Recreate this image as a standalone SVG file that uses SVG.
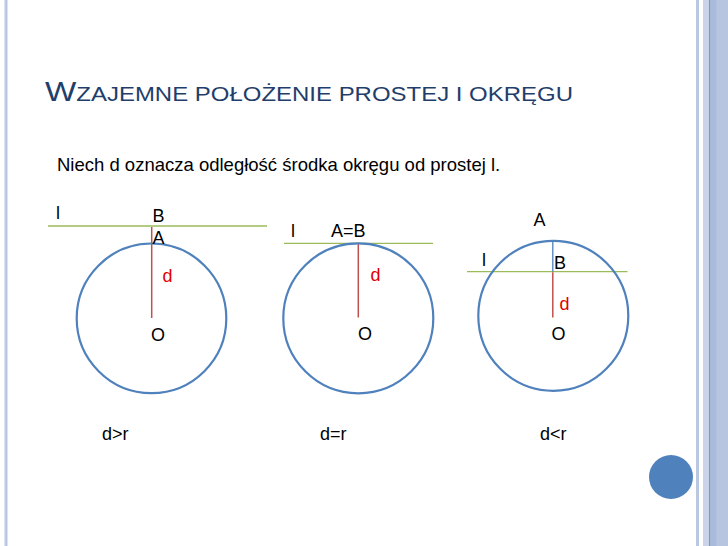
<svg xmlns="http://www.w3.org/2000/svg" width="728" height="546" viewBox="0 0 728 546">
<style>
.t{font-family:"Liberation Sans",Arial,sans-serif;font-size:18px;fill:#000}
.s{font-family:"Liberation Sans",Arial,sans-serif;font-size:18px;fill:#000}
.r{font-family:"Liberation Sans",Arial,sans-serif;font-size:18px;fill:#e00000}
.circ{fill:none;stroke:#4f81bd;stroke-width:2.2}
.ln{stroke:#9bbb59;stroke-width:1.3}
.dl{stroke:#c0504d;stroke-width:1.5}
.title{font-family:"Liberation Sans Narrow","Liberation Sans",Arial,sans-serif;fill:#1f3e6b}
</style>
<rect width="728" height="546" fill="#fff"/>
<g id="frame">
<rect x="4" y="0" width="4" height="546" fill="#dbe3f1"/>
<rect x="5.3" y="0" width="1.6" height="546" fill="#b3c2de"/>
<rect x="696" y="0" width="3" height="546" fill="#b9c7e1"/>
<rect x="703" y="0" width="25" height="546" fill="#b8c5e0"/>
<rect x="703" y="0" width="6" height="546" fill="#c9d4ea"/>
<rect x="709" y="0" width="1.3" height="546" fill="#7c97c8"/>
<rect x="710.3" y="0" width="6" height="546" fill="#a9bbdc"/>
<circle cx="671" cy="477" r="22" fill="#4f81bd"/>
</g>
<g id="title">
<text class="title" x="45" y="100.5" textLength="528" lengthAdjust="spacingAndGlyphs"><tspan font-size="27">W</tspan><tspan font-size="19.5">ZAJEMNE POŁOŻENIE PROSTEJ I OKRĘGU</tspan></text>
</g>
<text class="s" x="57" y="170.5" style="font-size:18.5px">Niech d oznacza odległość środka okręgu od prostej l.</text>
<g id="connectors">
<line class="ln" x1="48" y1="226" x2="267" y2="226"/>
<line class="dl" x1="151.7" y1="227" x2="151.7" y2="318"/>
<line class="ln" x1="284" y1="243.3" x2="433" y2="243.3"/>
<line class="dl" x1="358.3" y1="244" x2="358.3" y2="317.5"/>
<line class="ln" x1="467" y1="271.7" x2="627.5" y2="271.7"/>
<line x1="552.8" y1="241" x2="552.8" y2="271.7" stroke="#4f81bd" stroke-width="1.3"/>
<line class="dl" x1="552.8" y1="272.3" x2="552.8" y2="317.5"/>
</g>
<g id="circle1">
<circle class="circ" cx="151.5" cy="318.3" r="74.8"/>
<text class="t" x="56" y="219">l</text>
<text class="t" x="152.5" y="222">B</text>
<text class="t" x="152.5" y="244">A</text>
<text class="r" x="162.5" y="281.5">d</text>
<text class="t" x="151" y="340.5">O</text>
<text class="s" x="102" y="440">d&gt;r</text>
</g>
<g id="circle2">
<circle class="circ" cx="358.3" cy="318.3" r="75"/>
<text class="t" x="291" y="236.7">l</text>
<text class="t" x="331" y="236.7">A=B</text>
<text class="r" x="370.5" y="281">d</text>
<text class="t" x="358" y="339.5">O</text>
<text class="s" x="320" y="440">d=r</text>
</g>
<g id="circle3">
<circle class="circ" cx="553.3" cy="315.8" r="75"/>
<text class="t" x="533.5" y="226">A</text>
<text class="t" x="482" y="265.7">l</text>
<text class="t" x="554" y="269.3">B</text>
<text class="r" x="559.5" y="310">d</text>
<text class="t" x="551.5" y="339.5">O</text>
<text class="s" x="540" y="440">d&lt;r</text>
</g>
</svg>
